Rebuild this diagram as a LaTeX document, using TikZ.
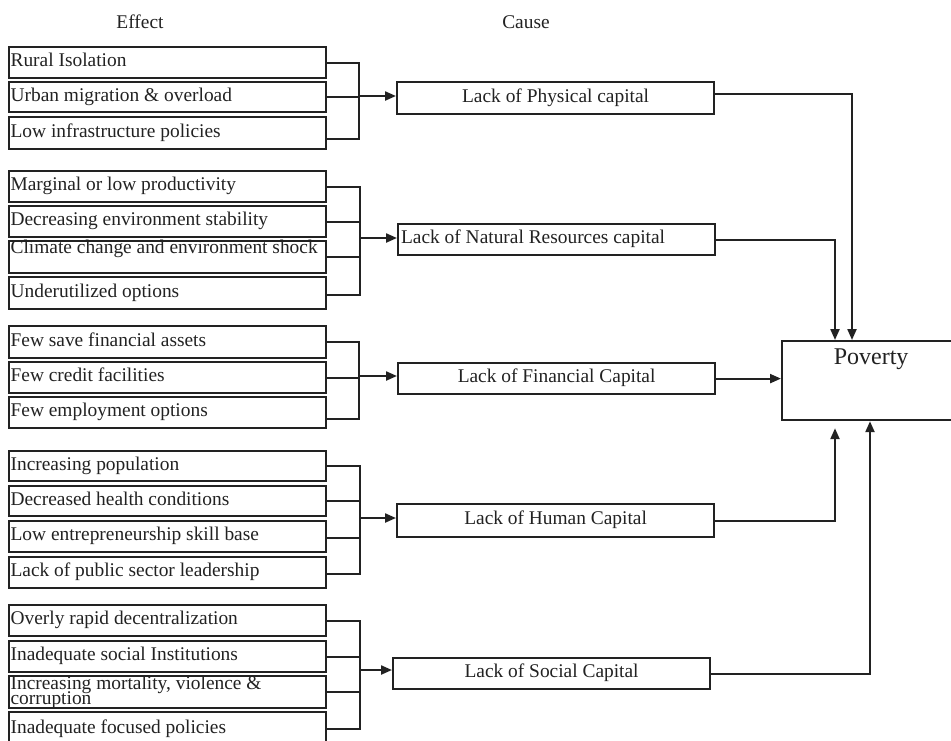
\documentclass[tikz,border=0pt]{standalone}
\usepackage{fontspec}
\setmainfont{Liberation Serif}
\usetikzlibrary{arrows.meta,calc}
\definecolor{ink}{HTML}{222222}
\begin{document}
\begin{tikzpicture}[x=1pt,y=-1pt,
  font=\fontsize{19.4}{22}\selectfont, text=ink,
  effectbox/.style={draw=ink, line width=2.2pt, anchor=north west,
    inner xsep=1.5pt, inner ysep=0pt, text height=13pt, text depth=5pt},
  causebox/.style={draw=ink, line width=2.2pt, anchor=north west,
    inner xsep=3pt, inner ysep=0pt, minimum width=317pt,
    text height=13pt, text depth=5pt},
  link/.style={draw=ink, line width=2.2pt},
  flow/.style={link, -{Triangle[length=11pt,width=9pt]}},
]
\fill[white] (0,0) rectangle (951,740);
\useasboundingbox (0,0) rectangle (951,740);

% column headings
\node[anchor=base] (effecthead) at (140,28) {Effect};
\node[anchor=base] (causehead) at (526,28) {Cause};

% effects: physical capital
\node[effectbox, minimum height=31pt] (e11) at (8,46) {\makebox[314pt][l]{Rural Isolation}};
\node[effectbox, minimum height=30pt] (e12) at (8,81) {\makebox[314pt][l]{Urban migration \& overload}};
\node[effectbox, minimum height=32pt] (e13) at (8,116) {\makebox[314pt][l]{Low infrastructure policies}};

% effects: natural resources capital
\node[effectbox, minimum height=31pt] (e21) at (8,170) {\makebox[314pt][l]{Marginal or low productivity}};
\node[effectbox, minimum height=31pt] (e22) at (8,205) {\makebox[314pt][l]{Decreasing environment stability}};
\node[effectbox, minimum height=32pt, text height=5pt, text depth=13pt] (e23) at (8,240) {\makebox[314pt][l]{Climate change and environment shock}};
\node[effectbox, minimum height=32pt] (e24) at (8,276) {\makebox[314pt][l]{Underutilized options}};

% effects: financial capital
\node[effectbox, minimum height=32pt] (e31) at (8,325) {\makebox[314pt][l]{Few save financial assets}};
\node[effectbox, minimum height=31pt] (e32) at (8,361) {\makebox[314pt][l]{Few credit facilities}};
\node[effectbox, minimum height=31pt] (e33) at (8,396) {\makebox[314pt][l]{Few employment options}};

% effects: human capital
\node[effectbox, minimum height=30pt] (e41) at (8,450) {\makebox[314pt][l]{Increasing population}};
\node[effectbox, minimum height=30pt] (e42) at (8,485) {\makebox[314pt][l]{Decreased health conditions}};
\node[effectbox, minimum height=31pt] (e43) at (8,520) {\makebox[314pt][l]{Low entrepreneurship skill base}};
\node[effectbox, minimum height=31pt] (e44) at (8,556) {\makebox[314pt][l]{Lack of public sector leadership}};

% effects: social capital
\node[effectbox, minimum height=31pt] (e51) at (8,604) {\makebox[314pt][l]{Overly rapid decentralization}};
\node[effectbox, minimum height=31pt] (e52) at (8,640) {\makebox[314pt][l]{Inadequate social Institutions}};
\node[effectbox, minimum height=32pt, text height=6pt, text depth=12pt] (e53) at (8,675)
  {\parbox[t]{314pt}{\baselineskip=15pt\lineskiplimit=-30pt Increasing mortality, violence \&\\corruption}};
\node[effectbox, minimum height=34pt] (e54) at (8,711) {\makebox[314pt][l]{Inadequate focused policies}};

% causes
\node[causebox, minimum height=32pt] (c1) at (396,81) {Lack of Physical capital};
\node[causebox, minimum height=31pt] (c2) at (397,223) {\makebox[311pt][l]{Lack of Natural Resources capital}};
\node[causebox, minimum height=31pt] (c3) at (397,362) {Lack of Financial Capital};
\node[causebox, minimum height=33pt] (c4) at (396,503) {Lack of Human Capital};
\node[causebox, minimum height=31pt] (c5) at (392,657) {Lack of Social Capital};

% outcome
\node[draw=ink, line width=2.2pt, anchor=north west, minimum width=178pt,
  minimum height=79pt, inner sep=0pt] (pov) at (781,340) {};
\node[anchor=base, font=\fontsize{24}{28}\selectfont] (povlabel) at ($(pov.north)+(0,24)$) {Poverty};

% brackets gathering the effects
\coordinate (j1) at (359,96);
\draw[link] (e11.east) -| (j1);
\draw[link] ($(e13.east)+(0,6)$) -| (j1);
\draw[link] (e12.east) -| (j1);
\draw[flow] (j1) -- (j1 -| c1.west);

\coordinate (j2) at (360,238);
\draw[link] (e21.east) -| (j2);
\draw[link] (e22.east) -| (j2);
\draw[link] (e23.east) -| (j2);
\draw[link] ($(e24.east)+(0,2)$) -| (j2);
\draw[flow] (j2) -- (j2 -| c2.west);

\coordinate (j3) at (359,376);
\draw[link] (e31.east) -| (j3);
\draw[link] ($(e33.east)+(0,6.5)$) -| (j3);
\draw[link] (e32.east) -| (j3);
\draw[flow] (j3) -- (j3 -| c3.west);

\coordinate (j4) at (360,518);
\draw[link] (e41.east) -| (j4);
\draw[link] (e42.east) -| (j4);
\draw[link] ($(e43.east)+(0,1.5)$) -| (j4);
\draw[link] ($(e44.east)+(0,1.5)$) -| (j4);
\draw[flow] (j4) -- (j4 -| c4.west);

\coordinate (j5) at (360,670);
\draw[link] (e51.east) -| (j5);
\draw[link] (e52.east) -| (j5);
\draw[link] (e53.east) -| (j5);
\draw[link] (e54.east) -| (j5);
\draw[flow] (j5) -- (j5 -| c5.west);

% causes leading to poverty
\draw[flow] ($(c1.east)+(0,-4)$) -| ($(pov.north west)+(71,0)$);
\draw[flow] (c2.east) -| ($(pov.north west)+(54,0)$);
\draw[flow] (c3.east) -- (c3.east -| pov.west);
\draw[flow] (c4.east) -| ($(pov.south west)+(54,7)$);
\draw[flow] (c5.east) -| ($(pov.south west)+(89,0)$);
\end{tikzpicture}
\end{document}
